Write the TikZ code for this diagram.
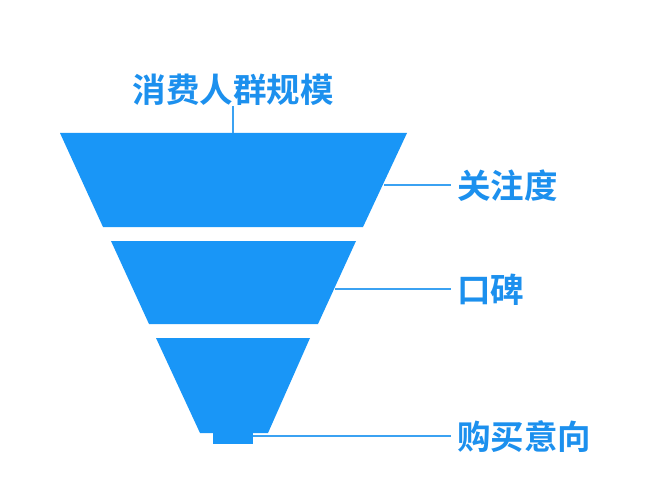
\documentclass[tikz,border=0pt]{standalone}
\usepackage{fontspec}
\newfontfamily\cjk{Noto Sans CJK SC}[BoldFont={* Bold}]
\definecolor{funnel}{HTML}{1996F7}
\definecolor{leader}{HTML}{3BA2F2}
\definecolor{labeltext}{HTML}{1C90EE}
\begin{document}
\begin{tikzpicture}[x=1pt,y=-1pt,
  seg/.style={fill=funnel,draw=none},
  lead/.style={draw=leader,line width=1.4pt},
  lbl/.style={font=\cjk\bfseries\fontsize{33.5}{37}\selectfont,text=labeltext,inner sep=0pt}]
\useasboundingbox[fill=white] (0,0) rectangle (650,497);
% funnel segments
\fill[seg] (60,133) -- (407,133) -- (363,227) -- (103,227) -- cycle;
\fill[seg] (111,241) -- (356,241) -- (318,324) -- (149,324) -- cycle;
\fill[seg] (156,338) -- (310,338) -- (268,433) -- (200,433) -- cycle;
\fill[seg] (213,432) rectangle (253,444);
% anchor points
\coordinate (t1) at (233,133);
\coordinate (s1) at (384,185);
\coordinate (s2) at (335,289);
\coordinate (s3) at (253,436);
% labels
\node[lbl,anchor=south] (l0) at (233,106) {消费人群规模};
\node[lbl,anchor=west] (l1) at (457,186) {关注度};
\node[lbl,anchor=west] (l2) at (457,290) {口碑};
\node[lbl,anchor=west] (l3) at (457,437) {购买意向};
% leaders
\draw[lead] (t1) -- (l0.south);
\draw[lead] (s1) -- ([xshift=-6pt,yshift=1pt]l1.west);
\draw[lead] (s2) -- ([xshift=-6pt,yshift=1pt]l2.west);
\draw[lead] (s3) -- ([xshift=-6pt,yshift=1pt]l3.west);
\end{tikzpicture}
\end{document}
